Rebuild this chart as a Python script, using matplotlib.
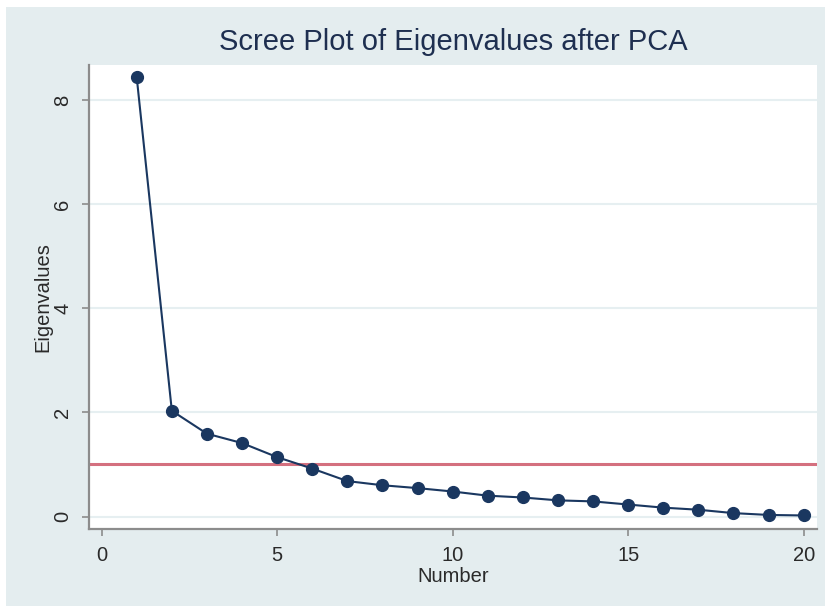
import matplotlib
matplotlib.use("Agg")
import matplotlib.pyplot as plt
from matplotlib.patches import Rectangle

# ---- data ----
component_number = list(range(1, 21))
eigenvalues = [8.43, 2.03, 1.59, 1.41, 1.14, 0.92, 0.68, 0.60, 0.545, 0.48,
               0.40, 0.365, 0.31, 0.29, 0.23, 0.17, 0.13, 0.065, 0.03, 0.02]
kaiser_cutoff = 1.0
x_ticks = [0, 5, 10, 15, 20]
y_ticks = [0, 2, 4, 6, 8]
title_text = "Scree Plot of Eigenvalues after PCA"
x_label = "Number"
y_label = "Eigenvalues"

plt.rcParams['font.family'] = ['Liberation Sans', 'DejaVu Sans']

W, H = 827, 606
fig = plt.figure(figsize=(W / 100, H / 100), dpi=100, facecolor='white')

# Stata-like outer panel
panel_color = '#e4edef'
fig.patches.append(Rectangle((6 / W, 0), (825 - 6) / W, (H - 7) / H,
                             transform=fig.transFigure, facecolor=panel_color,
                             edgecolor='none', zorder=-10))

ax = fig.add_axes([89 / W, 1 - 529 / H, (817 - 89) / W, (529 - 65) / H])
ax.set_facecolor('white')

navy = '#1a3760'
ax.plot(component_number, eigenvalues, color=navy, lw=1.5, marker='o',
        markersize=8.5, markerfacecolor=navy, markeredgecolor=navy, zorder=3)
ax.axhline(kaiser_cutoff, color='#d4707f', lw=2.2, zorder=2)

ax.set_xlim(-0.36, 20.38)
ax.set_ylim(-0.24, 8.67)
ax.set_xticks(x_ticks)
ax.set_yticks(y_ticks)

ax.grid(axis='y', color='#e6eff1', lw=1.5, zorder=0)
ax.grid(axis='x', visible=False)
ax.set_axisbelow(True)

for s in ['top', 'right']:
    ax.spines[s].set_visible(False)
for s in ['left', 'bottom']:
    ax.spines[s].set_color('#8c8c8c')
    ax.spines[s].set_linewidth(1.6)

label_color = '#2a2a2a'
ax.tick_params(axis='both', direction='out', length=5, width=1.2,
               color='#8c8c8c', labelsize=14.5, labelcolor=label_color)
ax.tick_params(axis='x', pad=7)
ax.tick_params(axis='y', pad=7, labelrotation=90)
for lbl in ax.get_yticklabels():
    lbl.set_va('center')

ax.set_xlabel(x_label, fontsize=14.5, color=label_color, labelpad=2)
ax.set_ylabel(y_label, fontsize=14.5, color=label_color, labelpad=0.5)

fig.text((89 + 817) / 2 / W, 1 - 42 / H, title_text, ha='center', va='center',
         fontsize=21, color='#1e2f50')

fig.savefig('out.png', dpi=100, facecolor='white')
